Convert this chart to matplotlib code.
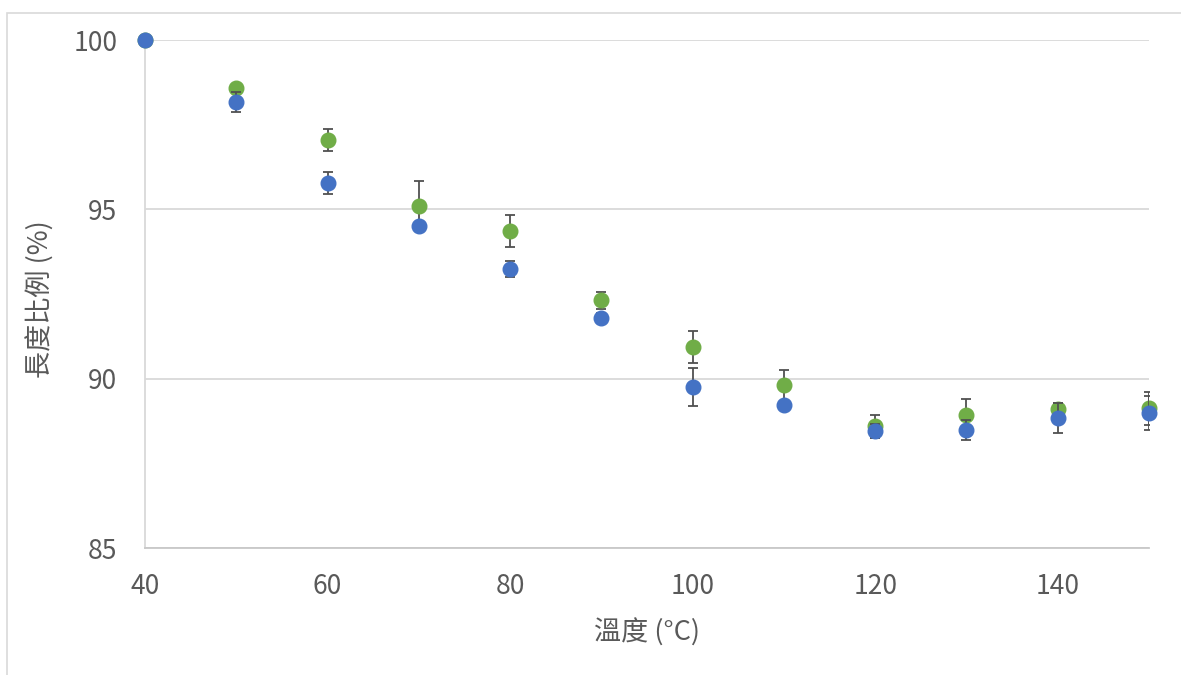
import matplotlib.pyplot as plt
from matplotlib.patches import Rectangle

plt.rcParams['font.family'] = ['Noto Sans CJK TC', 'DejaVu Sans']

temps = [40, 50, 60, 70, 80, 90, 100, 110, 120, 130, 140, 150]

# series 1 (blue) and series 2 (green), length ratio in %
blue_vals = [100.0, 98.17, 95.78, 94.51, 93.24, 91.79, 89.75, 89.22, 88.46, 88.49, 88.84, 88.99]
blue_err = [0.0, 0.30, 0.32, 0.10, 0.23, 0.15, 0.56, 0.12, 0.20, 0.30, 0.44, 0.50]
green_vals = [100.0, 98.58, 97.05, 95.10, 94.36, 92.32, 90.94, 89.81, 88.60, 88.93, 89.11, 89.13]
green_err = [0.0, 0.10, 0.32, 0.73, 0.46, 0.25, 0.47, 0.46, 0.34, 0.47, 0.18, 0.49]

x_ticks = [40, 60, 80, 100, 120, 140]
y_ticks = [85, 90, 95, 100]

TEXT_GRAY = '#595959'
GRID_GRAY = '#D9D9D9'

fig = plt.figure(figsize=(11.81, 6.75), dpi=100)
ax = fig.add_axes([145 / 1181, 1 - 548 / 675, 1004 / 1181, 508 / 675])

# outer chart border (Excel style)
fig.patches.append(Rectangle((7 / 1181, -0.1), 1.2, 0.1 + 1 - 12.5 / 675,
                             transform=fig.transFigure, fill=False,
                             edgecolor=GRID_GRAY, lw=1.2))

for vals, errs, col, z in [(green_vals, green_err, '#70AD47', 3),
                           (blue_vals, blue_err, '#4472C4', 5)]:
  line, caps, bars = ax.errorbar(temps, vals, yerr=errs, fmt='o', ms=10.5,
                                 color=col, mec=col, ecolor='#505050',
                                 elinewidth=1.3, capsize=3.6, capthick=1.3,
                                 zorder=z)
  line.set_clip_on(False)
  line.set_zorder(z + 1)

ax.set_xlim(40, 150)
ax.set_ylim(85, 100)
ax.set_xticks(x_ticks)
ax.set_yticks(y_ticks)
ax.grid(axis='y', color=GRID_GRAY, lw=1.3)
ax.set_axisbelow(True)
for s in ['top', 'right']:
  ax.spines[s].set_visible(False)
ax.spines['left'].set_color(GRID_GRAY)
ax.spines['bottom'].set_color('#C8C8C8')
ax.spines['left'].set_linewidth(1.3)
ax.spines['bottom'].set_linewidth(1.3)
ax.tick_params(length=0, labelsize=19, labelcolor=TEXT_GRAY)
ax.tick_params(axis='y', pad=20)
ax.tick_params(axis='x', pad=18)

ax.set_xlabel('溫度 (°C)', fontsize=19.5, color=TEXT_GRAY)
ax.set_ylabel('長度比例 (%)', fontsize=19.5, color=TEXT_GRAY)
ax.xaxis.label.set_va('center')
ax.yaxis.label.set_va('center')
ax.xaxis.set_label_coords(0.5, -(633 - 548) / 508)
ax.yaxis.set_label_coords(-(145 - 41) / 1004, 0.49)

fig.savefig('out.png', dpi=100)
